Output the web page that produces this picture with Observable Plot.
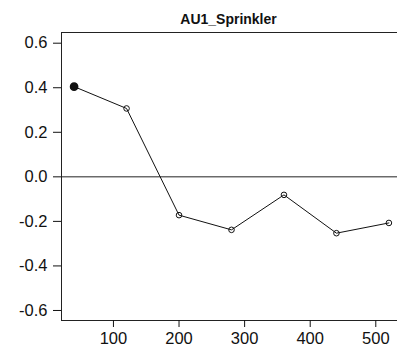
<!DOCTYPE html>
<html>
<head>
<meta charset="utf-8">
<script src="https://cdn.jsdelivr.net/npm/d3@7"></script>
<script src="https://cdn.jsdelivr.net/npm/@observablehq/plot@0.6"></script>
<style>
  html, body { margin: 0; padding: 0; background: #fff; }
  #chart svg { display: block; }
</style>
</head>
<body>
<div id="chart"></div>
<script>
// Lag (x) and correlation (y) for the AU1_Sprinkler series
const title = "AU1_Sprinkler";
const lags = [40, 120, 200, 280, 360, 440, 520];
const values = [0.405, 0.307, -0.172, -0.238, -0.081, -0.253, -0.207];
const yTicks = [-0.6, -0.4, -0.2, 0.0, 0.2, 0.4, 0.6];
const xTicks = [100, 200, 300, 400, 500];

const data = lags.map((x, i) => ({x, y: values[i]}));
const first = data.slice(0, 1);
const rest = data.slice(1);

const chart = Plot.plot({
  width: 397,
  height: 353,
  marginTop: 32,
  marginBottom: 33,
  marginLeft: 61,
  marginRight: 0,
  style: {fontFamily: "'Liberation Sans', Arial, sans-serif", background: "#fff", overflow: "hidden"},
  x: {domain: [20.8, 539.2], range: [61, 401]},
  y: {domain: [-0.645, 0.648]},
  marks: [
    Plot.frame({stroke: "#222", strokeWidth: 1}),
    Plot.ruleY([0], {stroke: "#222", strokeWidth: 1}),
    Plot.axisY({ticks: yTicks, tickSize: 8, tickPadding: 6, fontSize: 16.5, color: "#111",
      tickFormat: d => d.toFixed(1), label: null}),
    Plot.axisX({ticks: xTicks, tickSize: 7, tickPadding: 5, fontSize: 16.5, color: "#111",
      tickFormat: d => String(d), label: null}),
    Plot.line(data, {x: "x", y: "y", stroke: "#111", strokeWidth: 1}),
    Plot.dot(rest, {x: "x", y: "y", r: 2.8, stroke: "#111", strokeWidth: 1, fill: "none"}),
    Plot.dot(first, {x: "x", y: "y", r: 3.6, fill: "#111", stroke: "#111"}),
    Plot.text([title], {frameAnchor: "top", dx: -1, dy: -8.5, fontSize: 14, fontWeight: "bold", fill: "#111",
      lineAnchor: "bottom"})
  ]
});
document.getElementById("chart").appendChild(chart);
</script>
</body>
</html>
